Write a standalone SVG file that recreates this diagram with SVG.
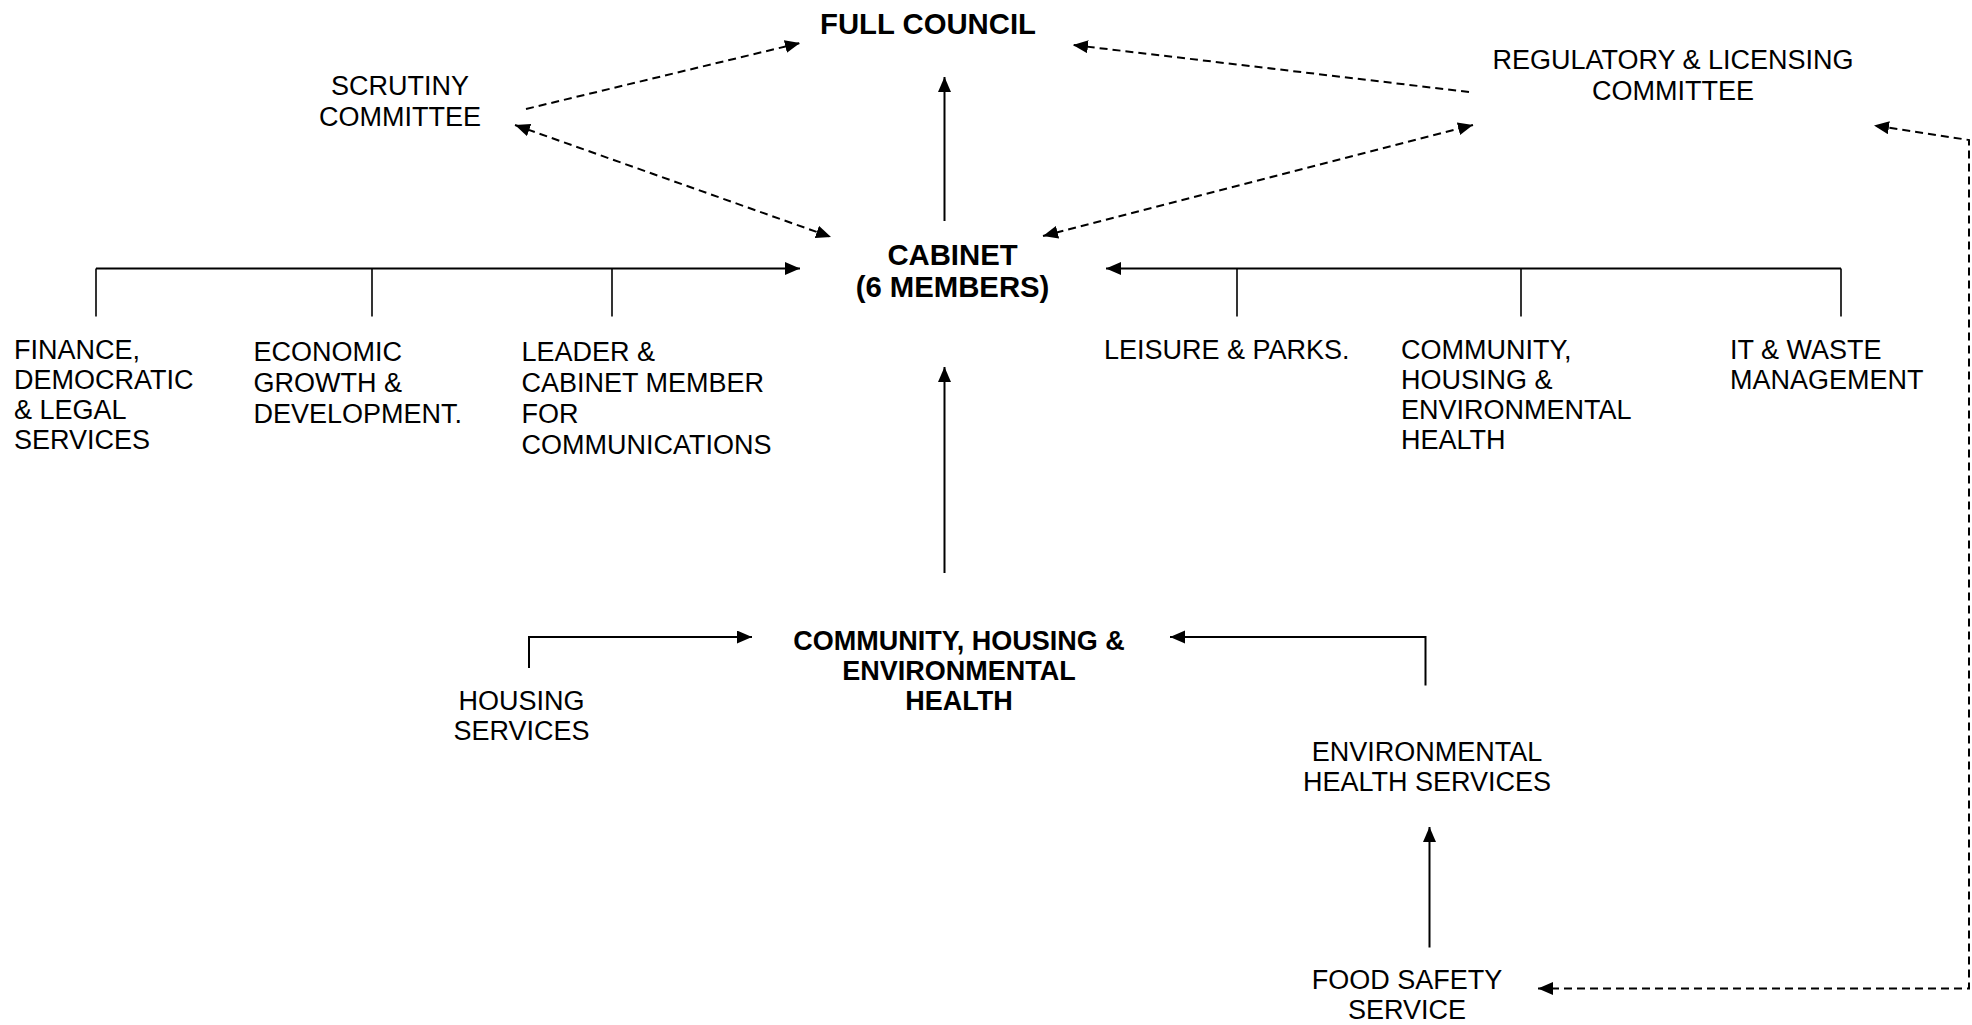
<svg xmlns="http://www.w3.org/2000/svg" width="1972" height="1025" viewBox="0 0 1972 1025">
  <style>
    text { font-family: "Liberation Sans", Arial, sans-serif; fill: #000; }
    .lbl { font-size: 27px; }
    .hd { font-size: 29.3px; font-weight: bold; }
    .hd2 { font-size: 27px; font-weight: bold; }
    .mid { text-anchor: middle; }
    .solid { stroke: #000; stroke-width: 2; fill: none; }
    .tick { stroke: #000; stroke-width: 1.6; fill: none; }
    .dash { stroke: #000; stroke-width: 2; fill: none; stroke-dasharray: 8 5; }
  </style>
  <defs>
    <marker id="arrow" markerUnits="userSpaceOnUse" markerWidth="16" markerHeight="14" refX="15" refY="6.5" orient="auto-start-reverse">
      <path d="M0,0 L15,6.5 L0,13 z" fill="#000" stroke="none"/>
    </marker>
  </defs>

  <rect width="1972" height="1025" fill="#fff"/>

  <!-- connectors -->
  <g id="connectors">
    <!-- cabinet reports to full council -->
    <line class="solid" x1="944.5" y1="221" x2="944.5" y2="77" marker-end="url(#arrow)"/>
    <!-- left portfolios bar -->
    <line class="solid" x1="96" y1="268.5" x2="800" y2="268.5" marker-end="url(#arrow)"/>
    <line class="tick" x1="96" y1="268.5" x2="96" y2="316.5"/>
    <line class="tick" x1="372" y1="268.5" x2="372" y2="316.5"/>
    <line class="tick" x1="612" y1="268.5" x2="612" y2="316.5"/>
    <!-- right portfolios bar -->
    <line class="solid" x1="1841" y1="268.5" x2="1106" y2="268.5" marker-end="url(#arrow)"/>
    <line class="tick" x1="1237" y1="268.5" x2="1237" y2="316.5"/>
    <line class="tick" x1="1521" y1="268.5" x2="1521" y2="316.5"/>
    <line class="tick" x1="1841" y1="268.5" x2="1841" y2="316.5"/>
    <!-- portfolio up to cabinet -->
    <line class="solid" x1="944.5" y1="573" x2="944.5" y2="367" marker-end="url(#arrow)"/>
    <!-- housing services into portfolio -->
    <polyline class="solid" points="529,668 529,637 752,637" marker-end="url(#arrow)"/>
    <!-- environmental health services into portfolio -->
    <polyline class="solid" points="1425.5,685.5 1425.5,637 1170,637" marker-end="url(#arrow)"/>
    <!-- food safety up to environmental health -->
    <line class="solid" x1="1429.5" y1="947.5" x2="1429.5" y2="827" marker-end="url(#arrow)"/>

    <!-- committee links -->
    <line class="dash" x1="526" y1="109" x2="800" y2="43" marker-end="url(#arrow)"/>
    <line class="dash" x1="515" y1="125" x2="831" y2="237" marker-start="url(#arrow)" marker-end="url(#arrow)"/>
    <line class="dash" x1="1469" y1="92" x2="1073" y2="45" marker-end="url(#arrow)"/>
    <line class="dash" x1="1043" y1="236" x2="1473" y2="125" marker-start="url(#arrow)" marker-end="url(#arrow)"/>
    <!-- regulatory & licensing to food safety -->
    <polyline class="dash" points="1538,988.5 1969,988.5 1969,140 1874,125.5" marker-start="url(#arrow)" marker-end="url(#arrow)"/>
  </g>

  <g id="full-council">
    <text class="hd mid" x="928" y="34">FULL COUNCIL</text>
  </g>

  <g id="cabinet">
    <text class="hd mid" x="952.5" y="265">CABINET</text>
    <text class="hd mid" x="952.5" y="297">(6 MEMBERS)</text>
  </g>

  <g id="scrutiny-committee">
    <text class="lbl mid" x="400" y="95">SCRUTINY</text>
    <text class="lbl mid" x="400" y="126">COMMITTEE</text>
  </g>

  <g id="regulatory-licensing-committee">
    <text class="lbl mid" x="1673" y="68.5">REGULATORY &amp; LICENSING</text>
    <text class="lbl mid" x="1673" y="100">COMMITTEE</text>
  </g>

  <g id="finance">
    <text class="lbl" x="14" y="358.5">FINANCE,</text>
    <text class="lbl" x="14" y="388.5">DEMOCRATIC</text>
    <text class="lbl" x="14" y="418.5">&amp; LEGAL</text>
    <text class="lbl" x="14" y="448.5">SERVICES</text>
  </g>

  <g id="economic-growth">
    <text class="lbl" x="253.5" y="360.5">ECONOMIC</text>
    <text class="lbl" x="253.5" y="391.5">GROWTH &amp;</text>
    <text class="lbl" x="253.5" y="422.5">DEVELOPMENT.</text>
  </g>

  <g id="leader">
    <text class="lbl" x="521.5" y="361">LEADER &amp;</text>
    <text class="lbl" x="521.5" y="392">CABINET MEMBER</text>
    <text class="lbl" x="521.5" y="423">FOR</text>
    <text class="lbl" x="521.5" y="454">COMMUNICATIONS</text>
  </g>

  <g id="leisure-parks">
    <text class="lbl" x="1104" y="358.5">LEISURE &amp; PARKS.</text>
  </g>

  <g id="community-portfolio">
    <text class="lbl" x="1401" y="358.5">COMMUNITY,</text>
    <text class="lbl" x="1401" y="388.5">HOUSING &amp;</text>
    <text class="lbl" x="1401" y="418.5">ENVIRONMENTAL</text>
    <text class="lbl" x="1401" y="448.5">HEALTH</text>
  </g>

  <g id="it-waste">
    <text class="lbl" x="1730" y="358.5">IT &amp; WASTE</text>
    <text class="lbl" x="1730" y="388.5">MANAGEMENT</text>
  </g>

  <g id="community-housing-env-health">
    <text class="hd2 mid" x="959" y="650">COMMUNITY, HOUSING &amp;</text>
    <text class="hd2 mid" x="959" y="680">ENVIRONMENTAL</text>
    <text class="hd2 mid" x="959" y="710">HEALTH</text>
  </g>

  <g id="housing-services">
    <text class="lbl mid" x="521.5" y="710">HOUSING</text>
    <text class="lbl mid" x="521.5" y="740">SERVICES</text>
  </g>

  <g id="environmental-health-services">
    <text class="lbl mid" x="1427" y="761">ENVIRONMENTAL</text>
    <text class="lbl mid" x="1427" y="791">HEALTH SERVICES</text>
  </g>

  <g id="food-safety">
    <text class="lbl mid" x="1407" y="989">FOOD SAFETY</text>
    <text class="lbl mid" x="1407" y="1019">SERVICE</text>
  </g>
</svg>
